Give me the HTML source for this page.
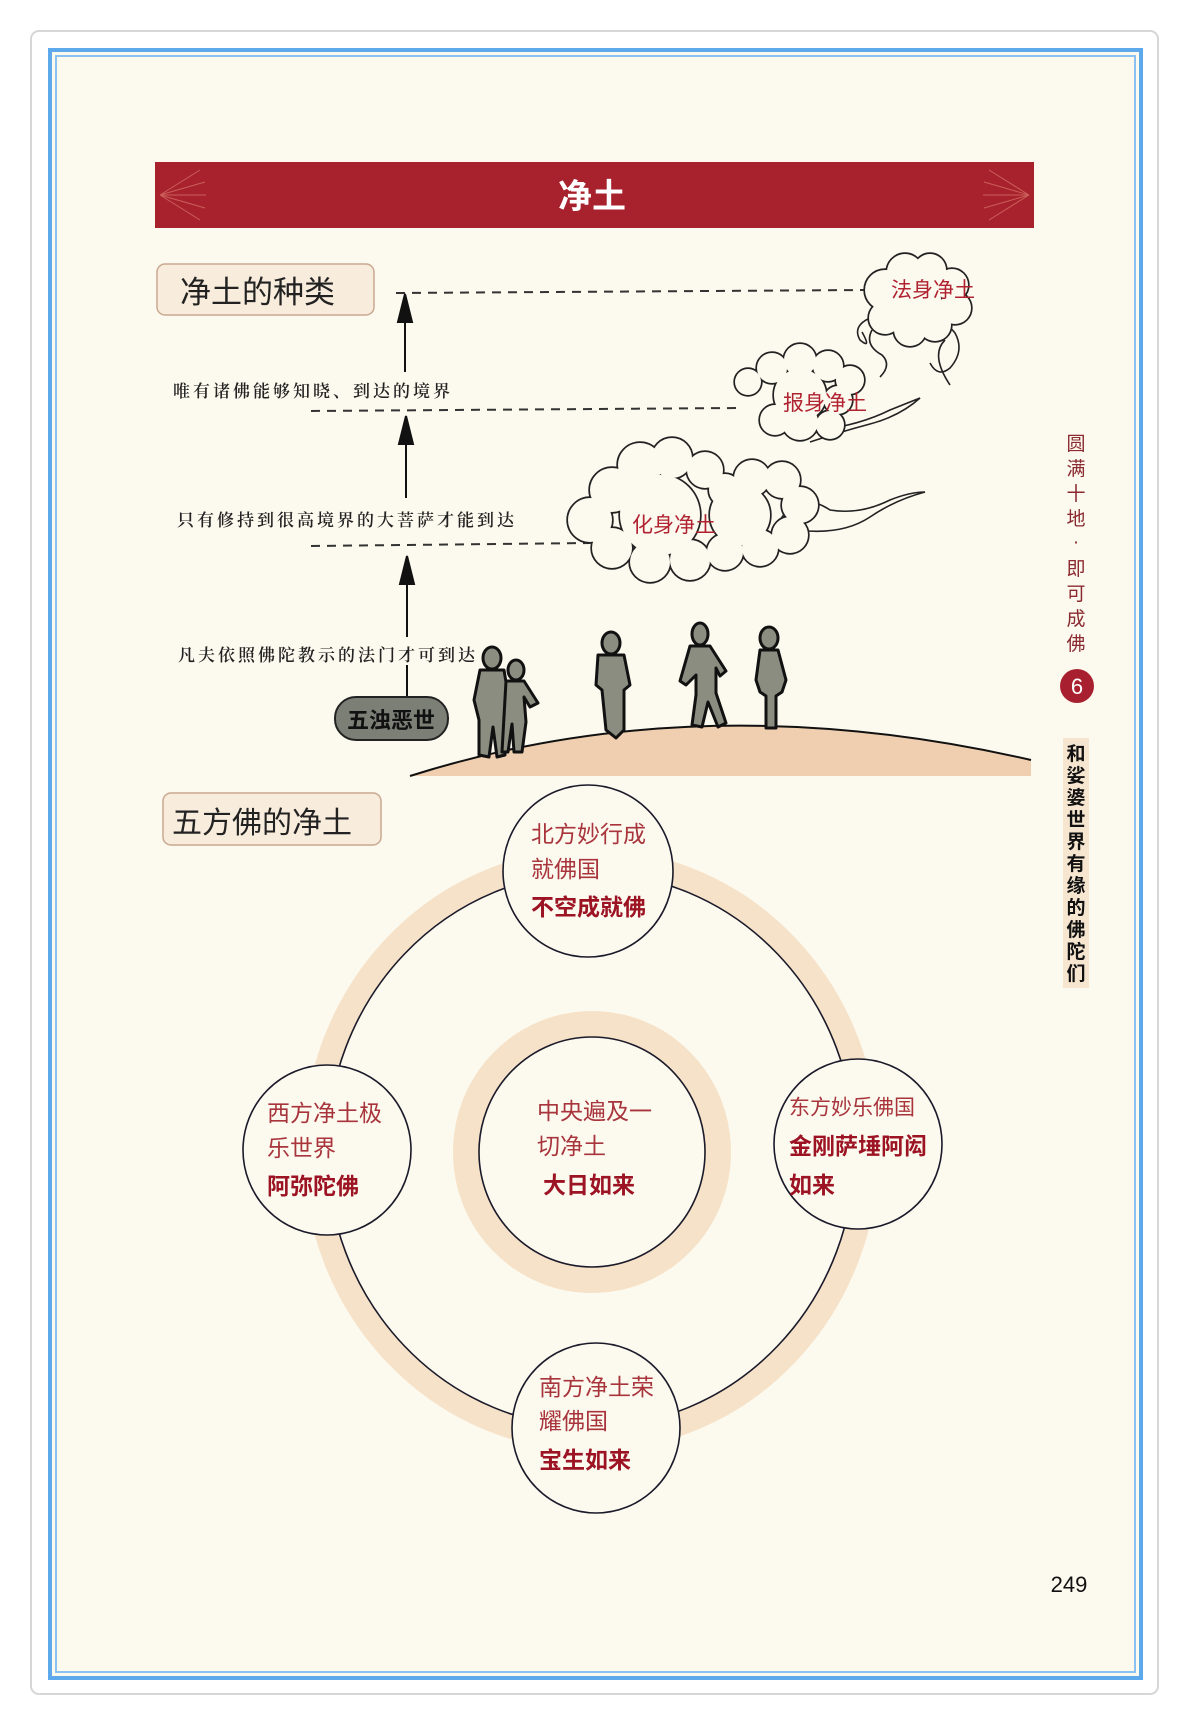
<!DOCTYPE html>
<html><head><meta charset="utf-8"><style>
html,body{margin:0;padding:0;background:#fff;}
svg{display:block;}
text{font-family:"Liberation Sans","Noto Sans CJK SC",sans-serif;}
.r{fill:#a8343c;font-size:23px;}
.b{fill:#9c1424;font-size:23px;font-weight:bold;}
.s{font-family:"Liberation Serif","Noto Serif CJK SC",serif;font-size:17px;letter-spacing:3px;font-weight:600;fill:#222;}
</style></head><body>
<svg width="1188" height="1722" viewBox="0 0 1188 1722" xmlns="http://www.w3.org/2000/svg">
<defs>
<g id="c1">
<circle cx="885" cy="290" r="20"/><circle cx="905" cy="272" r="18"/><circle cx="930" cy="270" r="16"/><circle cx="952" cy="285" r="16"/><circle cx="955" cy="308" r="16"/><circle cx="935" cy="325" r="16"/><circle cx="910" cy="330" r="16"/><circle cx="885" cy="318" r="16"/><circle cx="915" cy="300" r="26"/>
</g>
<g id="c2">
<circle cx="748" cy="382" r="13"/><circle cx="772" cy="368" r="15"/><circle cx="800" cy="360" r="16"/><circle cx="828" cy="366" r="15"/><circle cx="850" cy="380" r="14"/><circle cx="838" cy="400" r="14"/><circle cx="800" cy="422" r="18"/><circle cx="775" cy="420" r="15"/><circle cx="830" cy="425" r="14"/><circle cx="800" cy="395" r="26"/>
</g>
<g id="c3">
<circle cx="590" cy="520" r="22"/><circle cx="612" cy="490" r="22"/><circle cx="640" cy="465" r="22"/><circle cx="672" cy="458" r="20"/><circle cx="705" cy="470" r="18"/><circle cx="725" cy="490" r="16"/><circle cx="752" cy="478" r="18"/><circle cx="782" cy="480" r="18"/><circle cx="800" cy="505" r="18"/><circle cx="790" cy="535" r="18"/><circle cx="760" cy="548" r="18"/><circle cx="725" cy="552" r="18"/><circle cx="690" cy="560" r="20"/><circle cx="650" cy="562" r="20"/><circle cx="612" cy="548" r="20"/><circle cx="660" cy="515" r="40"/><circle cx="740" cy="515" r="30"/>
</g>
</defs>
<rect x="31" y="31" width="1127" height="1663" rx="8" fill="#fff" stroke="#d6d6d6" stroke-width="2"/>
<rect x="50" y="50" width="1091" height="1628" fill="#fcf9ee" stroke="#5ea8ec" stroke-width="4"/>
<rect x="56" y="56" width="1079" height="1616" fill="none" stroke="#8cc2f2" stroke-width="2"/>
<rect x="155" y="162" width="879" height="66" fill="#a8222e"/>
<g stroke="#d9786a" stroke-width="1" opacity="0.7">
<line x1="160" y1="195" x2="200" y2="170"/><line x1="160" y1="195" x2="205" y2="182"/><line x1="160" y1="195" x2="206" y2="195"/><line x1="160" y1="195" x2="205" y2="208"/><line x1="160" y1="195" x2="200" y2="220"/>
<line x1="1029" y1="195" x2="989" y2="170"/><line x1="1029" y1="195" x2="984" y2="182"/><line x1="1029" y1="195" x2="983" y2="195"/><line x1="1029" y1="195" x2="984" y2="208"/><line x1="1029" y1="195" x2="989" y2="220"/>
</g>
<text x="592" y="208" text-anchor="middle" fill="#fff" font-size="34" font-weight="bold">净土</text>
<rect x="157" y="264" width="217" height="51" rx="8" fill="#f8ecdc" stroke="#c9a890" stroke-width="1.5"/>
<text x="180" y="303" font-size="31" fill="#222">净土的种类</text>
<rect x="163" y="793" width="218" height="52" rx="8" fill="#f8ecdc" stroke="#c9a890" stroke-width="1.5"/>
<text x="172" y="833" font-size="30" fill="#222">五方佛的净土</text>
<g stroke="#333" stroke-width="2" stroke-dasharray="9,7">
<line x1="396" y1="293" x2="866" y2="290"/>
<line x1="311" y1="411" x2="737" y2="408"/>
<line x1="311" y1="546" x2="590" y2="543"/>
</g>
<g stroke="#111" stroke-width="2" fill="#111">
<line x1="405" y1="372" x2="405" y2="310"/><polygon points="405,294 398,322 412,322"/>
<line x1="406" y1="498" x2="406" y2="432"/><polygon points="406,416 399,444 413,444"/>
<line x1="407" y1="637" x2="407" y2="572"/><polygon points="407,556 400,584 414,584"/>
<line x1="407" y1="665" x2="407" y2="697"/>
</g>
<text class="s" x="173" y="397">唯有诸佛能够知晓、到达的境界</text>
<text class="s" x="177" y="526">只有修持到很高境界的大菩萨才能到达</text>
<text class="s" x="178" y="661">凡夫依照佛陀教示的法门才可到达</text>
<g fill="none" stroke="#222" stroke-width="1.6">
<path d="M870 318 q-18 8 -10 22 q12 10 2 -8 M872 330 q-8 15 10 25 q10 10 -2 22"/>
<path d="M930 328 q15 -8 25 5 q10 18 -5 35 q-12 10 -20 -5 M945 340 q-15 15 5 45"/>
<path d="M820 430 q40 -5 70 -20 q20 -8 30 -12 q-20 18 -50 26 q-30 8 -60 18"/>
<path d="M780 520 q20 -30 50 -10 q30 5 60 -10 q20 -8 35 -8 q-30 8 -55 25 q-30 20 -80 12"/>
</g>
<g stroke="#222" stroke-width="3.4"><use href="#c1"/><use href="#c2"/><use href="#c3"/></g>
<g fill="#fcf9ee"><use href="#c1"/><use href="#c2"/><use href="#c3"/></g>
<text x="891" y="297" font-size="21" fill="#b02230">法身净土</text>
<text x="783" y="410" font-size="21" fill="#b02230">报身净土</text>
<text x="632" y="532" font-size="21" fill="#b02230">化身净土</text>
<path d="M410 776 Q700 684 1031 760 L1031 776 Z" fill="#efcfb0"/>
<path d="M410 776 Q700 684 1031 760" fill="none" stroke="#111" stroke-width="2"/>
<g fill="#8a8d80" stroke="#111" stroke-width="3" stroke-linejoin="round">
<ellipse cx="492" cy="658" rx="9" ry="11"/><path d="M480 670 h24 l5 30 l-4 20 l0 35 l-8 2 l-4 -30 l-4 30 l-10 -2 l0 -35 l-5 -20 z"/>
<ellipse cx="516" cy="670" rx="8" ry="10"/><path d="M506 681 h18 l14 22 l-8 4 l-6 -10 l2 25 l-4 30 l-8 0 l-2 -28 l-4 28 l-6 0 z"/>
<ellipse cx="611" cy="643" rx="9" ry="11"/><path d="M598 655 h26 l6 30 l-6 5 l0 40 l-8 8 l-10 -8 l-4 -40 l-6 -5 z"/>
<ellipse cx="700" cy="634" rx="8" ry="11"/><path d="M690 646 h20 l16 25 l-6 5 l-4 -8 l0 25 l10 30 l-8 4 l-10 -25 l-6 25 l-10 -2 l4 -30 l0 -20 l-10 10 l-6 -4 z"/>
<ellipse cx="769" cy="638" rx="9" ry="11"/><path d="M760 650 h18 l8 30 l-4 12 l-6 4 l0 32 l-10 0 l0 -32 l-6 -4 l-4 -12 z"/>
</g>
<rect x="335" y="697" width="113" height="43" rx="21" fill="#7c7f76" stroke="#222" stroke-width="2"/>
<text x="391" y="728" text-anchor="middle" font-size="22" font-weight="bold" fill="#111">五浊恶世</text>
<g font-size="19" fill="#8a2a30" text-anchor="middle">
<text x="1076" y="450">圆</text><text x="1076" y="475">满</text><text x="1076" y="500">十</text><text x="1076" y="525">地</text><text x="1076" y="548">·</text><text x="1076" y="575">即</text><text x="1076" y="600">可</text><text x="1076" y="625">成</text><text x="1076" y="650">佛</text>
</g>
<circle cx="1077" cy="686" r="17" fill="#a82030"/>
<text x="1077" y="694" text-anchor="middle" font-size="22" fill="#fff" font-family="Liberation Serif,serif">6</text>
<rect x="1063" y="738" width="26" height="250" fill="#f6e6d0"/>
<g font-size="19" fill="#111" font-weight="bold" text-anchor="middle">
<text x="1076" y="760">和</text><text x="1076" y="782">娑</text><text x="1076" y="804">婆</text><text x="1076" y="826">世</text><text x="1076" y="848">界</text><text x="1076" y="870">有</text><text x="1076" y="892">缘</text><text x="1076" y="914">的</text><text x="1076" y="936">佛</text><text x="1076" y="958">陀</text><text x="1076" y="980">们</text>
</g>
<ellipse cx="591" cy="1150" rx="276" ry="289" fill="none" stroke="#f6e2c8" stroke-width="24"/>
<ellipse cx="591" cy="1150" rx="264" ry="277" fill="none" stroke="#1a1a2a" stroke-width="1.6"/>
<ellipse cx="592" cy="1152" rx="126" ry="128" fill="none" stroke="#f6e2c8" stroke-width="26"/>
<ellipse cx="592" cy="1152" rx="113" ry="115" fill="#fcf9ee" stroke="#1a1a2a" stroke-width="1.6"/>
<g fill="#fcf9ee" stroke="#1a1a2a" stroke-width="1.6">
<ellipse cx="588" cy="871" rx="85" ry="86"/>
<ellipse cx="327" cy="1150" rx="84" ry="85"/>
<ellipse cx="858" cy="1144" rx="84" ry="85"/>
<ellipse cx="596" cy="1428" rx="84" ry="85"/>
</g>
<g dominant-baseline="central">
<text class="r" x="531" y="834">北方妙行成</text><text class="r" x="531" y="869">就佛国</text><text class="b" x="531" y="907">不空成就佛</text>
<text class="r" x="267" y="1113">西方净土极</text><text class="r" x="267" y="1148">乐世界</text><text class="b" x="267" y="1186">阿弥陀佛</text>
<text class="r" x="537" y="1111">中央遍及一</text><text class="r" x="537" y="1146">切净土</text><text class="b" x="543" y="1185">大日如来</text>
<text class="r" x="789" y="1108" style="font-size:21px">东方妙乐佛国</text><text class="b" x="789" y="1146">金刚萨埵阿闳</text><text class="b" x="789" y="1185">如来</text>
<text class="r" x="539" y="1387">南方净土荣</text><text class="r" x="539" y="1421">耀佛国</text><text class="b" x="539" y="1460">宝生如来</text>
</g>
<text x="1069" y="1592" text-anchor="middle" font-size="22" fill="#111" font-family="Liberation Serif,serif">249</text>
</svg>
</body></html>
